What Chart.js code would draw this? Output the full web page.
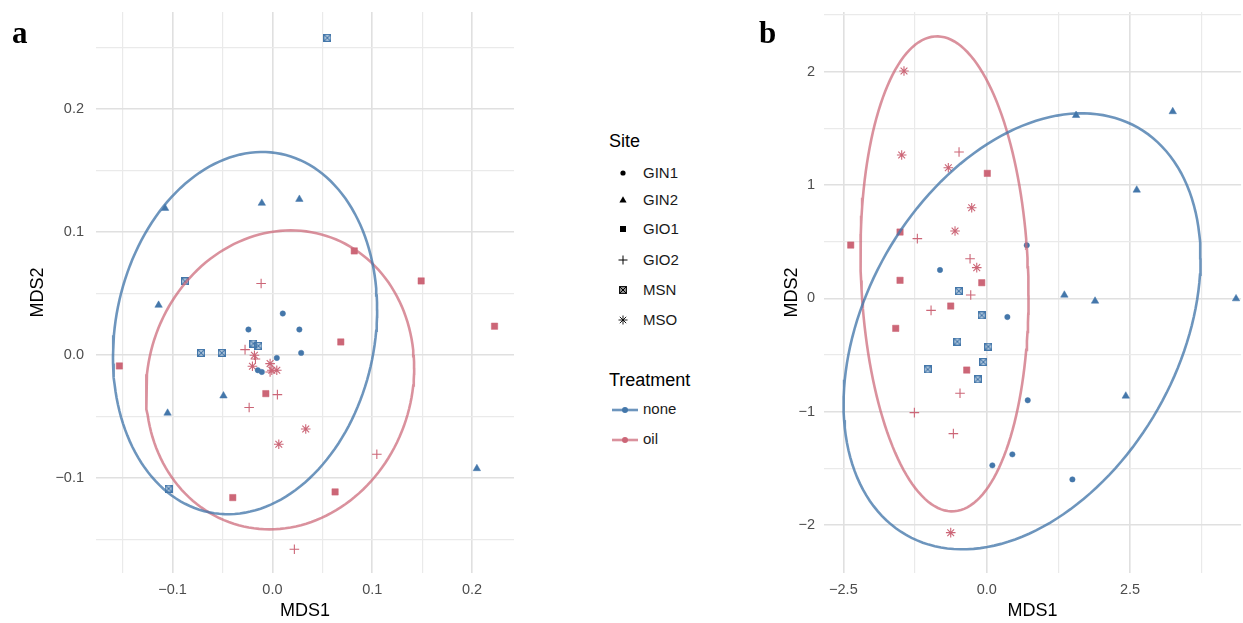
<!DOCTYPE html>
<html><head><meta charset="utf-8">
<script src="https://cdn.jsdelivr.net/npm/chart.js@4.4.0/dist/chart.umd.min.js"></script>
<style>
html,body{margin:0;padding:0;background:#fff;}
body{width:1243px;height:623px;position:relative;overflow:hidden;font-family:"Liberation Sans",Arial,sans-serif;color:#1a1a1a;}
#ca{position:absolute;left:0;top:0;}
#cb{position:absolute;left:760px;top:0;}
.tag{position:absolute;font-family:"Liberation Serif","Times New Roman",serif;font-weight:bold;font-size:31px;line-height:31px;color:#000;}
.lt{position:absolute;font-size:18px;line-height:20px;color:#000;}
.li{position:absolute;font-size:15px;line-height:18px;color:#1a1a1a;}
.ls{position:absolute;}
</style></head>
<body>
<canvas id="ca" width="520" height="623"></canvas>
<canvas id="cb" width="487" height="623"></canvas>
<div class="tag" style="left:12px;top:17px">a</div>
<div class="tag" style="left:759px;top:17px">b</div>
<div id="legend"></div>
<script>
// ---------------- data ----------------
const sites = ['GIN1','GIN2','GIO1','GIO2','MSN','MSO'];
const siteTreatment = ['none','none','oil','oil','none','oil'];
const treatments = ['none','oil'];
const treatmentColors = ['#4477AA','#CC6677'];
const treatmentEllipseColors = ['rgba(68,119,170,0.78)','rgba(204,102,119,0.72)'];

// Panel a (MDS1, MDS2)
const aGIN1 = [[0.0104,0.0339],[-0.024,0.0209],[0.027,0.0209],[0.0288,0.0019],[0.0044,-0.0022],[-0.0146,-0.0122],[-0.0106,-0.0136]];
const aGIN2 = [[-0.1075,0.1195],[-0.0106,0.1236],[0.027,0.1268],[-0.114,0.0407],[-0.049,-0.033],[-0.105,-0.047],[0.2048,-0.0921]];
const aGIO1 = [[0.082,0.0848],[0.149,0.0604],[0.2225,0.0236],[0.0685,0.0108],[-0.1533,-0.0087],[-0.0066,-0.0312],[0.0628,-0.1111],[-0.0397,-0.1157]];
const aGIO2 = [[-0.0113,0.0583],[-0.0274,0.0046],[-0.017,-0.003],[-0.0023,-0.0136],[0.005,-0.032],[-0.0233,-0.0425],[0.1046,-0.0805],[0.022,-0.1577]];
const aMSN  = [[0.055,0.258],[-0.0875,0.060],[-0.019,0.0095],[-0.014,0.0076],[-0.0714,0.0019],[-0.0507,0.0019],[-0.104,-0.1084]];
const aMSO  = [[-0.018,0.0],[-0.02,-0.009],[-0.0023,-0.0068],[-0.0006,-0.0122],[0.0044,-0.0122],[0.0334,-0.060],[0.0064,-0.0724]];
// ellipse parameters: [centreX, centreY, halfWidthX, halfHeightY, correlation]
const aEllipseNone = [-0.0274, 0.0180, 0.1323, 0.1472, 0.13];
const aEllipseOil  = [0.0077, -0.0200, 0.1343, 0.1215, 0.08];

// Panel b
const bGIN1 = [[-0.815,0.25],[0.698,0.468],[0.36,-0.165],[0.715,-0.90],[0.447,-1.377],[0.098,-1.474],[1.494,-1.598]];
const bGIN2 = [[1.558,1.615],[3.244,1.648],[2.616,0.956],[1.354,0.029],[1.889,-0.024],[4.348,-0.003],[2.425,-0.862]];
const bGIO1 = [[0.01,1.103],[-2.372,0.47],[-1.512,0.585],[-1.512,0.159],[-0.087,0.138],[-0.628,-0.068],[-1.587,-0.265],[-0.349,-0.633]];
const bGIO2 = [[-0.483,1.291],[-1.21,0.527],[-0.291,0.35],[-0.279,0.029],[-0.971,-0.106],[-0.466,-0.838],[-1.262,-1.009],[-0.582,-1.194]];
const bMSN  = [[-0.488,0.064],[-0.087,-0.150],[-0.513,-0.382],[0.028,-0.426],[-0.059,-0.562],[-1.029,-0.627],[-0.157,-0.715]];
const bMSO  = [[-1.443,2.006],[-1.483,1.265],[-0.67,1.153],[-0.262,0.80],[-0.553,0.594],[-0.174,0.271],[-0.628,-2.068]];
const bEllipseNone = [0.616, -0.291, 3.113, 1.924, 0.335];
const bEllipseOil  = [-0.736, 0.216, 1.465, 2.096, -0.09];

// axes
const aXRange = [-0.1767, 0.242], aYRange = [-0.177, 0.279];
const aXMajor = [-0.1, 0, 0.1, 0.2], aXMajorLabels = ['\u22120.1','0.0','0.1','0.2'];
const aXMinor = [-0.15, -0.05, 0.05, 0.15];
const aYMajor = [-0.1, 0, 0.1, 0.2], aYMajorLabels = ['\u22120.1','0.0','0.1','0.2'];
const aYMinor = [-0.15, -0.05, 0.05, 0.15, 0.25];
const bXRange = [-2.838, 4.436], bYRange = [-2.424, 2.527];
const bXMajor = [-2.5, 0, 2.5], bXMajorLabels = ['\u22122.5','0.0','2.5'];
const bXMinor = [-1.25, 1.25, 3.75];
const bYMajor = [-2, -1, 0, 1, 2], bYMajorLabels = ['\u22122','\u22121','0','1','2'];
const bYMinor = [-1.5, -0.5, 0.5, 1.5, 2.5];

// ---------------- drawing ----------------
function boxTimes(color, fill, size, lw){
  const c = document.createElement('canvas');
  c.width = size; c.height = size;
  const g = c.getContext('2d');
  const o = lw/2;
  g.fillStyle = fill; g.fillRect(o, o, size-lw, size-lw);
  g.strokeStyle = color; g.lineWidth = lw;
  g.strokeRect(o, o, size-lw, size-lw);
  g.beginPath(); g.moveTo(o,o); g.lineTo(size-o,size-o); g.moveTo(size-o,o); g.lineTo(o,size-o); g.stroke();
  return c;
}
function siteStyle(site, color){
  switch(site){
    case 'GIN1': return {pointStyle:'circle', pointRadius:2.7, pointBackgroundColor:color, pointBorderColor:color, pointBorderWidth:0.5};
    case 'GIN2': return {pointStyle:'triangle', pointRadius:4.3, pointBackgroundColor:color, pointBorderColor:color, pointBorderWidth:0.5};
    case 'GIO1': return {pointStyle:'rect', pointRadius:4.5, pointBackgroundColor:color, pointBorderColor:color, pointBorderWidth:0.5};
    case 'GIO2': return {pointStyle:'cross', pointRadius:4.8, pointBackgroundColor:color, pointBorderColor:color, pointBorderWidth:1.1};
    case 'MSN':  return {pointStyle:boxTimes(color, 'rgba(68,119,170,0.3)', 8, 1.2), pointRadius:4, pointBackgroundColor:color, pointBorderColor:color};
    case 'MSO':  return {pointStyle:'star', pointRadius:4.8, pointBackgroundColor:color, pointBorderColor:color, pointBorderWidth:1.1};
  }
}
function ellipsePts(e){
  const [cx,cy,sx,sy,r] = e, pts = [], n = 160, q = Math.sqrt(1-r*r);
  for(let i=0;i<=n;i++){
    const t = 2*Math.PI*i/n;
    pts.push({x: cx + sx*Math.cos(t), y: cy + sy*(r*Math.cos(t) + q*Math.sin(t))});
  }
  return pts;
}
const isIn = (v, arr) => arr.some(m => Math.abs(m - v) < 1e-9);

function buildChart(id, siteData, ellNone, ellOil, xr, yr, xMaj, xLab, xMin, yMaj, yLab, yMin, cfg){
  const datasets = [];
  [ellNone, ellOil].forEach((e, k) => {
    datasets.push({data: ellipsePts(e), showLine:true, borderColor: treatmentEllipseColors[k], borderWidth: 2.6,
      pointRadius:0, fill:false, tension:0, order: 1});
  });
  sites.forEach((s, i) => {
    const color = treatmentColors[treatments.indexOf(siteTreatment[i])];
    datasets.push(Object.assign({data: siteData[i].map(p => ({x:p[0], y:p[1]})), showLine:false, order: 2}, siteStyle(s, color)));
  });
  const mkScale = (range, maj, lab, min, isX) => ({
    type:'linear', min: range[0], max: range[1],
    afterBuildTicks: s => { s.ticks = maj.concat(min).sort((a,b)=>a-b).map(v => ({value:v})); },
    afterFit: s => {
      if (isX) s.height = cfg.xAxisH; else s.width = cfg.yAxisW;
      s.paddingTop = 0; s.paddingBottom = 0; s.paddingLeft = 0; s.paddingRight = 0;
    },
    border: {display:false},
    grid: {drawTicks:false, color: ctx => isIn(ctx.tick.value, maj) ? '#e0e0e0' : '#eaeaea',
           lineWidth: ctx => isIn(ctx.tick.value, maj) ? 1.6 : 1.2},
    ticks: {autoSkip:false, maxRotation:0, padding: isX ? 8 : cfg.yTickPad, color:'#4d4d4d',
            font:{family:'"Liberation Sans", Arial, sans-serif', size:14.5},
            callback: v => { const j = maj.findIndex(m => Math.abs(m - v) < 1e-9); return j >= 0 ? lab[j] : ''; }},
    title: {display:true, text: isX ? 'MDS1' : 'MDS2', color:'#000',
            font:{family:'"Liberation Sans", Arial, sans-serif', size:18},
            padding: isX ? {top:0,bottom:1} : {top: cfg.yTitlePad, bottom:0}}
  });
  return new Chart(document.getElementById(id), {
    type:'scatter',
    data:{datasets},
    options:{
      responsive:false, animation:false, devicePixelRatio:1, events:[],
      layout:{padding:{left:0, right: cfg.padRight, top:cfg.padTop, bottom:0}},
      plugins:{legend:{display:false}, tooltip:{enabled:false}},
      scales:{ x: mkScale(xr, xMaj, xLab, xMin, true), y: mkScale(yr, yMaj, yLab, yMin, false) }
    }
  });
}

buildChart('ca', [aGIN1,aGIN2,aGIO1,aGIO2,aMSN,aMSO], aEllipseNone, aEllipseOil, aXRange, aYRange,
  aXMajor, aXMajorLabels, aXMinor, aYMajor, aYMajorLabels, aYMinor,
  {xAxisH:50, yAxisW:96, yTickPad:12, yTitlePad:27, padRight:6, padTop:12});
buildChart('cb', [bGIN1,bGIN2,bGIO1,bGIO2,bMSN,bMSO], bEllipseNone, bEllipseOil, bXRange, bYRange,
  bXMajor, bXMajorLabels, bXMinor, bYMajor, bYMajorLabels, bYMinor,
  {xAxisH:50, yAxisW:64, yTickPad:9, yTitlePad:21, padRight:2, padTop:12});

// ---------------- legend ----------------
const L = document.getElementById('legend');
function add(html){ L.insertAdjacentHTML('beforeend', html); }
add('<div class="lt" style="left:609px;top:131px">Site</div>');
const siteY = [173, 200, 229, 260, 290, 320];
const symSvg = {
  GIN1: '<circle cx="8" cy="8" r="2.6" fill="#000"/>',
  GIN2: '<polygon points="8,4.2 11.6,10.6 4.4,10.6" fill="#000"/>',
  GIO1: '<rect x="5" y="5" width="6" height="6" fill="#000"/>',
  GIO2: '<path d="M3.5,8H12.5M8,3.5V12.5" stroke="#000" stroke-width="1"/>',
  MSN: '<rect x="4.6" y="4.6" width="6.8" height="6.8" fill="#999" stroke="#000" stroke-width="1"/><path d="M4.6,4.6L11.4,11.4M11.4,4.6L4.6,11.4" stroke="#000" stroke-width="1"/>',
  MSO: '<path d="M3.5,8H12.5M8,3.5V12.5M4.8,4.8L11.2,11.2M11.2,4.8L4.8,11.2" stroke="#000" stroke-width="0.9"/>'
};
sites.forEach((s, i) => {
  add('<svg class="ls" width="16" height="16" style="left:615px;top:' + (siteY[i]-8) + 'px">' + symSvg[s] + '</svg>');
  add('<div class="li" style="left:643px;top:' + (siteY[i]-9) + 'px">' + s + '</div>');
});
add('<div class="lt" style="left:609px;top:370px">Treatment</div>');
const trY = [410, 440];
treatments.forEach((t, i) => {
  const c = treatmentColors[i], lc = treatmentEllipseColors[i];
  add('<svg class="ls" width="28" height="16" style="left:611px;top:' + (trY[i]-8) + 'px"><path d="M1,8H27" stroke="' + lc + '" stroke-width="2.6"/><circle cx="14" cy="8" r="3" fill="' + c + '"/></svg>');
  add('<div class="li" style="left:643px;top:' + (trY[i]-10) + 'px">' + t + '</div>');
});
</script>
</body></html>
